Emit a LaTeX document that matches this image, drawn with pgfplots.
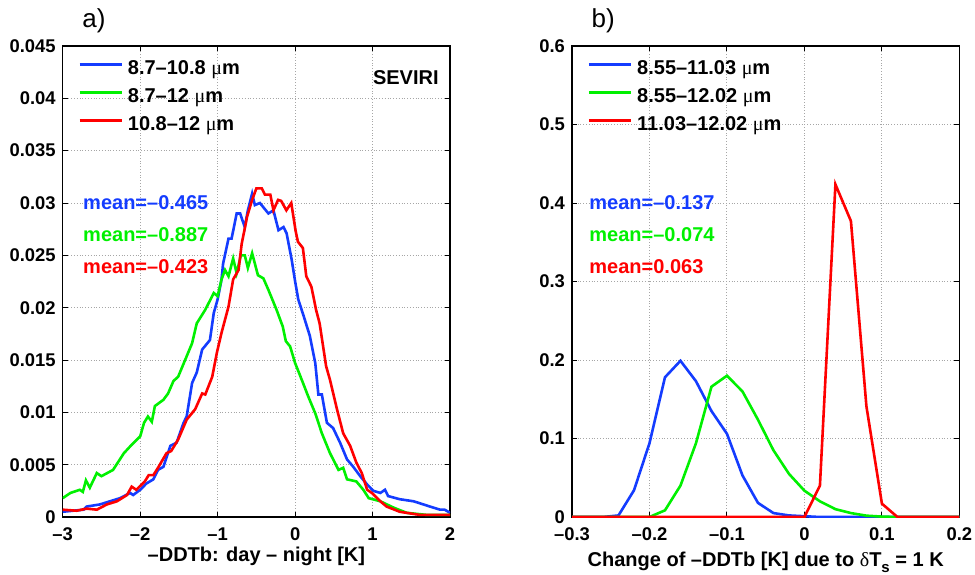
\documentclass[border=0pt]{standalone}
\usepackage{fontspec}
\setmainfont{Liberation Sans}
\newfontfamily\serif{Liberation Serif}
\usepackage{pgfplots}
\pgfplotsset{compat=1.18}

\definecolor{mblue}{RGB}{20,60,255}
\definecolor{mgreen}{RGB}{0,240,0}
\definecolor{mred}{RGB}{255,0,0}

\newcommand{\um}{{\serif\mdseries μ}m}

\pgfplotsset{
  mat/.style={
    scale only axis, width=193.7pt, height=235.5pt,
    scaled x ticks=false, scaled y ticks=false,
    axis line style={line width=0.6pt},
    tick align=inside, major tick length=2.5pt,
    tick style={black, line width=0.5pt},
    grid=major, grid style={densely dotted, gray!70, line width=0.5pt},
    tick label style={font=\fontsize{9.2}{10}\selectfont\bfseries},
    xticklabel style={yshift=-1.7pt},
    every axis plot/.append style={line width=1.3pt},
    legend style={draw=none, fill=none, at={(0,1)}, anchor=north west,
      xshift=7.6pt, yshift=-7pt, inner sep=0pt, row sep=5pt, column sep=2.5pt,
      font=\fontsize{10}{12}\selectfont\bfseries,
      nodes={inner sep=0pt, text height=7pt, text depth=2pt}},
    legend cell align=left,
    legend image code/.code={\draw[##1, line width=1.3pt] (0pt,2.5pt) -- (21pt,2.5pt);},
  },
}
\tikzset{
  note/.style={anchor=west, inner sep=0pt, font=\fontsize{10}{12}\selectfont\bfseries},
  panel/.style={anchor=south west, inner sep=0pt, xshift=9.65pt, yshift=6.3pt,
    font=\fontsize{13}{15}\selectfont},
}

\begin{document}
\begin{tikzpicture}
\begin{axis}[mat, name=L,
  xmin=-3, xmax=2, ymin=0, ymax=0.045,
  xtick={-3,-2,-1,0,1,2},
  xticklabels={\textendash3,\textendash2,\textendash1,0,1,2},
  ytick={0,0.005,0.01,0.015,0.02,0.025,0.03,0.035,0.04,0.045},
  yticklabels={0,0.005,0.01,0.015,0.02,0.025,0.03,0.035,0.04,0.045},
  xlabel={\textendash DDTb: day \textendash\ night [K]},
  xlabel style={at={(axis description cs:0.5,0)}, anchor=base, yshift=-22.3pt,
    font=\fontsize{10}{12}\selectfont\bfseries},
]
\addplot[mblue] coordinates {
(-3.00,0.0005) (-2.73,0.0007) (-2.69,0.0010) (-2.52,0.0012) (-2.39,0.0015)
(-2.26,0.0018) (-2.13,0.0023) (-2.09,0.0021) (-2.00,0.0026) (-1.92,0.0032)
(-1.83,0.0036) (-1.77,0.0045) (-1.70,0.0048) (-1.61,0.0068) (-1.53,0.0071)
(-1.44,0.0090) (-1.40,0.0096) (-1.33,0.0128) (-1.27,0.0138) (-1.20,0.0160)
(-1.10,0.0169) (-1.05,0.0195) (-1.00,0.0208) (-0.95,0.0227) (-0.93,0.0242)
(-0.86,0.0266) (-0.82,0.0266) (-0.755,0.0290) (-0.71,0.0290) (-0.65,0.0277)
(-0.61,0.0293) (-0.555,0.0309) (-0.52,0.0298) (-0.455,0.0300) (-0.345,0.0290)
(-0.28,0.0293) (-0.215,0.0274) (-0.15,0.0277) (-0.11,0.0271) (-0.045,0.0246)
(0.00,0.0225) (0.04,0.0208) (0.11,0.0192) (0.19,0.0173) (0.26,0.0147)
(0.30,0.0117) (0.345,0.0117) (0.41,0.0090) (0.49,0.0085) (0.58,0.0071)
(0.67,0.0055) (0.75,0.0048) (0.84,0.0039) (0.93,0.0031) (1.01,0.0025)
(1.10,0.0023) (1.16,0.0026) (1.20,0.0020) (1.35,0.0017) (1.53,0.0015)
(1.74,0.0010) (1.87,0.0007) (1.93,0.0007) (2.00,0.0004)
};
\addplot[mgreen] coordinates {
(-3.00,0.0018) (-2.90,0.0023) (-2.78,0.0026) (-2.74,0.0024) (-2.70,0.0035)
(-2.65,0.0028) (-2.56,0.0042) (-2.50,0.0039) (-2.35,0.0045) (-2.28,0.0053)
(-2.21,0.0061) (-2.11,0.0069) (-2.00,0.0077) (-1.95,0.0090) (-1.90,0.0096)
(-1.85,0.0091) (-1.81,0.0106) (-1.70,0.0112) (-1.64,0.0118) (-1.57,0.0130)
(-1.51,0.0134) (-1.42,0.0150) (-1.33,0.0166) (-1.27,0.0185) (-1.16,0.0198)
(-1.05,0.0214) (-1.00,0.0211) (-0.95,0.0227) (-0.905,0.0236) (-0.86,0.0230)
(-0.80,0.0247) (-0.755,0.0233) (-0.70,0.0250) (-0.65,0.0250) (-0.61,0.0238)
(-0.555,0.0252) (-0.48,0.0231) (-0.41,0.0228) (-0.345,0.0217) (-0.24,0.0198)
(-0.16,0.0182) (-0.12,0.0168) (-0.065,0.0163) (0.00,0.0147) (0.086,0.0131)
(0.17,0.0115) (0.26,0.0099) (0.345,0.0080) (0.45,0.0061) (0.56,0.0045)
(0.62,0.0047) (0.67,0.0036) (0.79,0.0034) (0.88,0.0026) (0.95,0.0018)
(1.10,0.0015) (1.27,0.0009) (1.44,0.0004) (1.70,0.0002) (2.00,0.0002)
};
\addplot[mred] coordinates {
(-3.00,0.0007) (-2.82,0.0006) (-2.69,0.0008) (-2.56,0.0007) (-2.43,0.0012)
(-2.30,0.0015) (-2.17,0.0021) (-2.11,0.0029) (-2.05,0.0026) (-1.94,0.0034)
(-1.89,0.0040) (-1.83,0.0040) (-1.77,0.0047) (-1.66,0.0061) (-1.60,0.0063)
(-1.51,0.0074) (-1.40,0.0093) (-1.29,0.0103) (-1.20,0.0118) (-1.16,0.0117)
(-1.07,0.0134) (-1.01,0.0157) (-0.95,0.0176) (-0.86,0.0201) (-0.80,0.0227)
(-0.73,0.0236) (-0.69,0.0261) (-0.62,0.0287) (-0.555,0.0303) (-0.50,0.0314)
(-0.43,0.0314) (-0.39,0.0308) (-0.32,0.0308) (-0.28,0.0293) (-0.22,0.0303)
(-0.18,0.0302) (-0.113,0.0293) (-0.05,0.0300) (0.007,0.0273) (0.036,0.0263)
(0.10,0.0257) (0.144,0.0230) (0.21,0.0220) (0.27,0.0198) (0.316,0.0185)
(0.40,0.0144) (0.45,0.0131) (0.54,0.0103) (0.62,0.0080) (0.71,0.0068)
(0.79,0.0052) (0.86,0.0042) (0.93,0.0026) (0.99,0.0023) (1.10,0.0015)
(1.18,0.0010) (1.35,0.0005) (1.61,0.0002) (2.00,0.0002)
};
\legend{8.7\textendash10.8 \um, 8.7\textendash12 \um, 10.8\textendash12 \um}
\node[note] at (axis description cs:0.80,0.932) {SEVIRI};
\node[note, text=mblue] at (axis description cs:0.052,0.667) {mean=\textendash0.465};
\node[note, text=mgreen] at (axis description cs:0.052,0.599) {mean=\textendash0.887};
\node[note, text=mred] at (axis description cs:0.052,0.531) {mean=\textendash0.423};
\end{axis}
\node[panel] at (L.north west) {a)};

\begin{axis}[mat, name=R, at={(254.65pt,0pt)},
  xmin=-0.3, xmax=0.2, ymin=0, ymax=0.6,
  xtick={-0.3,-0.2,-0.1,0,0.1,0.2},
  xticklabels={\textendash0.3,\textendash0.2,\textendash0.1,0,0.1,0.2},
  ytick={0,0.1,0.2,0.3,0.4,0.5,0.6},
  yticklabels={0,0.1,0.2,0.3,0.4,0.5,0.6},
  xlabel={Change of \textendash DDTb [K] due to {\serif\mdseries δ}T\raisebox{-0.6ex}{\fontsize{7.5}{8}\selectfont s} = 1 K},
  xlabel style={at={(axis description cs:0.5,0)}, anchor=base, yshift=-24.5pt,
    font=\fontsize{10}{12}\selectfont\bfseries},
]
\addplot[mblue] coordinates {
(-0.30,0) (-0.28,0) (-0.26,0) (-0.24,0.002) (-0.22,0.034) (-0.20,0.094)
(-0.18,0.178) (-0.16,0.199) (-0.14,0.173) (-0.12,0.135) (-0.10,0.106)
(-0.08,0.053) (-0.06,0.018) (-0.04,0.005) (-0.02,0.002) (0.00,0.001)
(0.02,0) (0.04,0) (0.06,0) (0.08,0) (0.10,0) (0.12,0) (0.14,0) (0.16,0)
(0.18,0) (0.20,0)
};
\addplot[mgreen] coordinates {
(-0.30,0) (-0.28,0) (-0.26,0) (-0.24,0) (-0.22,0) (-0.20,0)
(-0.18,0.0085) (-0.16,0.040) (-0.14,0.094) (-0.12,0.166) (-0.10,0.180)
(-0.08,0.160) (-0.06,0.124) (-0.04,0.085) (-0.02,0.055) (0.00,0.0335)
(0.02,0.020) (0.04,0.010) (0.06,0.005) (0.08,0.0017) (0.10,0.0005)
(0.12,0) (0.14,0) (0.16,0) (0.18,0) (0.20,0)
};
\addplot[mred] coordinates {
(-0.30,0) (-0.28,0) (-0.26,0) (-0.24,0) (-0.22,0) (-0.20,0) (-0.18,0)
(-0.16,0) (-0.14,0) (-0.12,0) (-0.10,0) (-0.08,0) (-0.06,0) (-0.04,0)
(-0.02,0) (0.00,0) (0.02,0.040) (0.04,0.4237) (0.06,0.377) (0.08,0.141)
(0.10,0.017) (0.12,0) (0.14,0) (0.16,0) (0.18,0) (0.20,0)
};
\legend{8.55\textendash11.03 \um, 8.55\textendash12.02 \um, 11.03\textendash12.02 \um}
\node[note, text=mblue] at (axis description cs:0.044,0.667) {mean=\textendash0.137};
\node[note, text=mgreen] at (axis description cs:0.044,0.599) {mean=\textendash0.074};
\node[note, text=mred] at (axis description cs:0.044,0.531) {mean=0.063};
\end{axis}
\node[panel] at (R.north west) {b)};
\pgfresetboundingbox
\path (-31.35pt,-28.5pt) rectangle (456.15pt,258.5pt);
\end{tikzpicture}
\end{document}
